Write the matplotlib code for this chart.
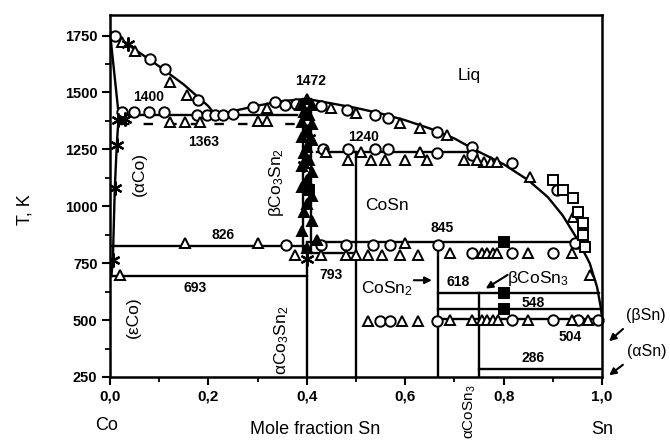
import matplotlib
matplotlib.use('Agg')
import matplotlib.pyplot as plt

plt.rcParams['font.family'] = ['Liberation Sans', 'DejaVu Sans']
plt.rcParams['mathtext.fontset'] = 'custom'
plt.rcParams['mathtext.rm'] = 'Liberation Sans'
plt.rcParams['mathtext.it'] = 'Liberation Sans:italic'
plt.rcParams['mathtext.bf'] = 'Liberation Sans:bold'

# --- phase boundaries (mole fraction Sn, T in K) ---
liq_co_x = [0.0, 0.05, 0.1, 0.15, 0.2, 0.215]
liq_co_T = [1768, 1690, 1615, 1535, 1440, 1400]
liq_mid_x = [0.215, 0.25, 0.3, 0.35, 0.4]
liq_mid_T = [1400, 1418, 1442, 1462, 1472]
liq_sn_x = [0.4, 0.45, 0.5, 0.55, 0.6, 0.65, 0.7, 0.74, 0.8, 0.85, 0.89, 0.92, 0.95, 0.975, 0.99, 0.998, 1.0]
liq_sn_T = [1472, 1452, 1432, 1408, 1378, 1342, 1298, 1250, 1185, 1115, 1040, 960, 855, 750, 645, 550, 504]
solidus_x = [0.0, 0.018]
solidus_T = [1768, 1400]
solvus_x = [0.018, 0.014, 0.01, 0.006, 0.003]
solvus_T = [1400, 1270, 1080, 760, 693]

# invariant lines
inv_T = [1400, 1240, 845, 826, 793, 693, 618, 548, 504, 286]
inv_x0 = [0.018, 0.42, 0.4, 0.0, 0.4, 0.0, 0.667, 0.667, 0.667, 0.75]
inv_x1 = [0.38, 0.745, 0.955, 0.4, 0.5, 0.4, 0.993, 0.998, 1.0, 1.0]
dash_T = 1363
dash_x = [0.02, 0.38]

# compounds
comp_x = [0.4, 0.5, 0.667, 0.75]
comp_top = [793, 1240, 845, 618]
beta_x = [0.392, 0.408]
beta_T = [793, 1472]

# --- experimental points ---
circ_x = [0.010, 0.081, 0.112, 0.179,
          0.024, 0.05, 0.08, 0.11, 0.177, 0.197, 0.213, 0.23, 0.25,
          0.29, 0.335, 0.356, 0.378,
          0.43, 0.481, 0.539, 0.566, 0.664, 0.735,
          0.433, 0.484, 0.539, 0.566, 0.664, 0.735,
          0.817, 0.908, 0.949,
          0.357, 0.43, 0.48, 0.535, 0.57, 0.667, 0.735, 0.817, 0.9, 0.945,
          0.549, 0.569, 0.664, 0.817, 0.9, 0.951, 0.992]
circ_T = [1750, 1645, 1605, 1465,
          1412, 1412, 1412, 1412, 1400, 1400, 1400, 1400, 1405,
          1434, 1456, 1443, 1450,
          1440, 1425, 1400, 1386, 1326, 1262,
          1250, 1250, 1250, 1250, 1235, 1225,
          1188, 1070, 838,
          830, 830, 830, 832, 832, 829, 794, 794, 794, 838,
          498, 498, 498, 500, 500, 500, 500]

tri_x = [0.024, 0.051, 0.122, 0.157,
         0.122, 0.152, 0.183, 0.3, 0.32,
         0.32, 0.386,
         0.45, 0.5, 0.59, 0.63, 0.685, 0.76, 0.775, 0.787, 0.854, 0.941, 0.976,
         0.44, 0.483, 0.51, 0.53, 0.56, 0.6, 0.63, 0.645, 0.72, 0.745,
         0.02, 0.152, 0.3, 0.6,
         0.376, 0.43, 0.48, 0.5, 0.525, 0.553, 0.59, 0.626,
         0.691, 0.756, 0.766, 0.778, 0.787, 0.85, 0.939,
         0.525, 0.593, 0.626, 0.691, 0.736, 0.756, 0.766, 0.778, 0.789, 0.85, 0.939, 0.972]
tri_T = [1720, 1684, 1544, 1487,
         1370, 1370, 1370, 1375, 1375,
         1430, 1445,
         1430, 1408, 1368, 1342, 1311, 1195, 1195, 1195, 1127, 952, 697,
         1240, 1205, 1240, 1205, 1205, 1205, 1240, 1205, 1205, 1205,
         697, 838, 838, 838,
         787, 787, 787, 787, 787, 787, 787, 787,
         794, 794, 794, 794, 794, 794, 794,
         498, 498, 498, 500, 500, 500, 500, 500, 500, 500, 500, 500]

star_x = [0.037, 0.016, 0.03, 0.014, 0.01, 0.006, 0.4, 0.395, 0.405]
star_T = [1715, 1377, 1382, 1267, 1079, 763, 770, 1180, 1300]

ftri_x = [0.40, 0.39, 0.41, 0.395, 0.405, 0.39, 0.41, 0.40, 0.39, 0.41, 0.40, 0.395,
          0.405, 0.39, 0.41, 0.40, 0.39, 0.41, 0.40, 0.395, 0.41, 0.39, 0.42, 0.40]
ftri_T = [1472, 1445, 1445, 1415, 1400, 1372, 1360, 1335, 1305, 1290, 1262, 1235,
          1205, 1175, 1150, 1115, 1085, 1045, 1010, 975, 935, 890, 850, 815]

fsq_x = [0.8, 0.8, 0.8, 0.405]
fsq_T = [845, 618, 548, 1070]

osq_x = [0.90, 0.92, 0.941, 0.951, 0.962, 0.962, 0.965]
osq_T = [1114, 1070, 1035, 974, 925, 873, 820]

# labels
num_text = ['1400', '1363', '1472', '1240', '826', '845', '693', '793', '618', '548', '504', '286']
num_x = [0.078, 0.19, 0.407, 0.516, 0.23, 0.675, 0.173, 0.45, 0.707, 0.86, 0.935, 0.86]
num_T = [1478, 1281, 1552, 1303, 873, 903, 640, 697, 667, 574, 425, 333]

fig = plt.figure(figsize=(6.7, 4.43), dpi=100)
ax = fig.add_axes([0.164, 0.149, 0.7345, 0.817])

lc = 'black'
lw = 1.7
ax.plot(liq_co_x, liq_co_T, color=lc, lw=lw)
ax.plot(liq_mid_x, liq_mid_T, color=lc, lw=lw)
ax.plot(liq_sn_x, liq_sn_T, color=lc, lw=lw)
ax.plot(solidus_x, solidus_T, color=lc, lw=lw)
ax.plot(solvus_x, solvus_T, color=lc, lw=lw)
for T, a, b in zip(inv_T, inv_x0, inv_x1):
    ax.plot([a, b], [T, T], color=lc, lw=lw)
ax.plot(dash_x, [dash_T, dash_T], color=lc, lw=lw, ls=(0, (4, 6)))
for x, top in zip(comp_x, comp_top):
    ax.plot([x, x], [250, top], color=lc, lw=lw)
for x in beta_x:
    ax.plot([x, x], beta_T, color=lc, lw=lw)

mk = dict(ls='none', mec='black', mew=1.4, ms=7.5, clip_on=False)
ax.plot(circ_x, circ_T, marker='o', mfc='white', **mk)
ax.plot(tri_x, tri_T, marker='^', mfc='white', **mk)
ax.plot(osq_x, osq_T, marker='s', mfc='white', **mk)
ax.plot(ftri_x, ftri_T, marker='^', mfc='black', **mk)
ax.plot(fsq_x, fsq_T, marker='s', mfc='black', **mk)
ax.plot(star_x, star_T, marker=(6, 2, 0), mfc='black', ls='none', mec='black', mew=1.6, ms=10)

for t, x, T in zip(num_text, num_x, num_T):
    ax.text(x, T, t, ha='center', va='center', fontsize=10, fontweight='bold')

ax.text(0.73, 1574, 'Liq', ha='center', va='center', fontsize=12.5)
ax.text(0.563, 1004, 'CoSn', ha='center', va='center', fontsize=12.5)
ax.text(0.563, 640, 'CoSn$_2$', ha='center', va='center', fontsize=12.5)
ax.text(0.87, 684, r'βCoSn$_3$', ha='center', va='center', fontsize=12.5)
ax.text(0.06, 1140, '(αCo)', ha='center', va='center', fontsize=12.5, rotation=90)
ax.text(0.047, 513, '(εCo)', ha='center', va='center', fontsize=12.5, rotation=90)
ax.text(0.338, 1105, r'βCo$_3$Sn$_2$', ha='center', va='center', fontsize=12.5, rotation=90)
ax.text(0.35, 412, r'αCo$_3$Sn$_2$', ha='center', va='center', fontsize=12.5, rotation=90)
ax.text(1.09, 522, '(βSn)', ha='center', va='center', fontsize=11.5, clip_on=False)
ax.text(1.09, 360, '(αSn)', ha='center', va='center', fontsize=11.5, clip_on=False)

arw = dict(arrowstyle='-|>', color='black', lw=1.5, mutation_scale=10)
ax.annotate('', xy=(0.66, 675), xytext=(0.612, 675), arrowprops=arw)
ax.annotate('', xy=(0.759, 632), xytext=(0.813, 705), arrowprops=arw)
ax.annotate('', xy=(1.01, 399), xytext=(1.047, 469), arrowprops=arw, annotation_clip=False)
ax.annotate('', xy=(1.01, 250), xytext=(1.047, 311), arrowprops=arw, annotation_clip=False)

ax.set_xlim(0, 1)
ax.set_ylim(250, 1840)
ax.set_xticks([0, 0.2, 0.4, 0.6, 0.8, 1.0])
ax.set_xticklabels(['0,0', '0,2', '0,4', '0,6', '0,8', '1,0'], fontweight='bold', fontsize=11)
ax.set_xticks([0.1, 0.3, 0.5, 0.7, 0.9], minor=True)
ax.set_yticks([250, 500, 750, 1000, 1250, 1500, 1750])
ax.set_yticklabels(['250', '500', '750', '1000', '1250', '1500', '1750'], fontweight='bold', fontsize=10.5)
ax.set_yticks([375, 625, 875, 1125, 1375, 1625], minor=True)
ax.tick_params(which='major', direction='out', length=6, width=1.5, pad=3)
ax.tick_params(which='minor', direction='out', length=3.5, width=1.3)
for s in ax.spines.values():
    s.set_linewidth(1.8)

fig.text(25 / 670, 1 - 210 / 443, 'T, K', rotation=90, ha='center', va='center', fontsize=13)
fig.text(315 / 670, 1 - 430 / 443, 'Mole fraction Sn', ha='center', va='center', fontsize=13)
fig.text(107 / 670, 1 - 425 / 443, 'Co', ha='center', va='center', fontsize=13)
fig.text(602 / 670, 1 - 430 / 443, 'Sn', ha='center', va='center', fontsize=13)
fig.text(470 / 670, 1 - 412 / 443, r'αCoSn$_3$', rotation=90, ha='center', va='center', fontsize=11)

fig.savefig('out.png', dpi=100)
